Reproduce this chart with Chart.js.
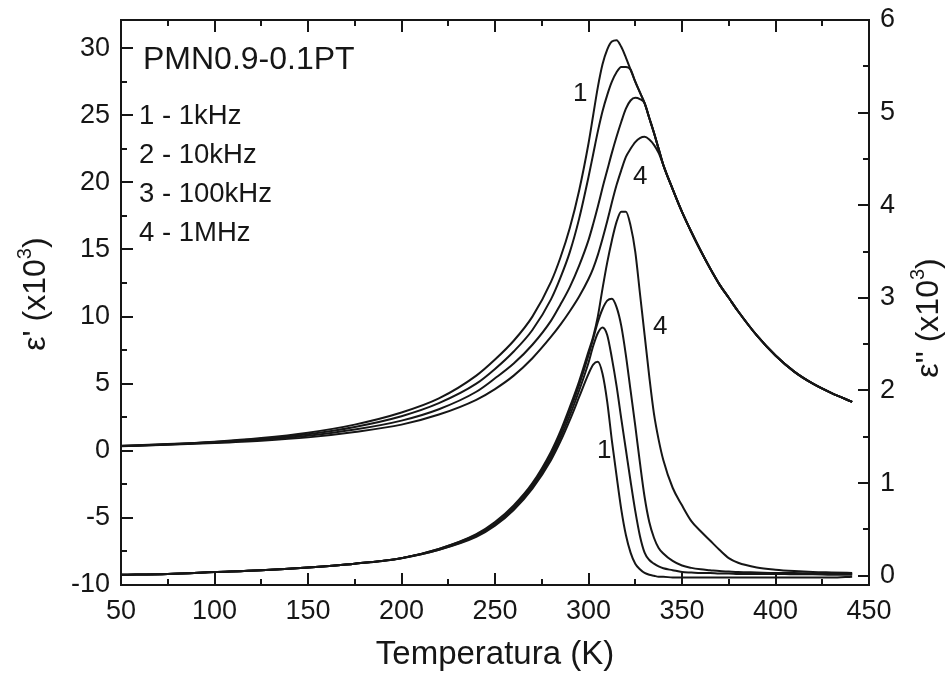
<!DOCTYPE html>
<html>
<head>
<meta charset="utf-8">
<script src="https://cdn.jsdelivr.net/npm/chart.js@4.4.1/dist/chart.umd.min.js"></script>
<style>
  html, body { margin: 0; padding: 0; background: #fff; }
  #wrap { width: 951px; height: 675px; }
</style>
</head>
<body>
<div id="wrap"><canvas id="chart" width="951" height="675"></canvas></div>
<script>
// temperatures (K), shared by all curves
const temps = [50, 75, 100, 125, 150, 175, 200, 220, 240, 250, 260, 270, 280, 285, 290, 295, 300,
  302.5, 305, 307.5, 310, 312.5, 315, 317.5, 320, 322.5, 325, 327.5, 330, 332.5, 335, 337.5, 340,
  345, 350, 355, 360, 365, 370, 375, 380, 390, 400, 410, 420, 430, 441];

// eps' (x10^3), left axis
const epsReal1k = [0.37, 0.50, 0.68, 0.95, 1.35, 1.95, 2.85, 3.9, 5.6, 6.8, 8.2, 10.0, 12.6, 14.4, 16.6, 19.4, 22.9,
  25.0, 27.1, 28.8, 29.9, 30.5, 30.6, 30.1, 29.3, 28.4, 27.5, 26.7, 25.9, 24.8, 23.7, 22.5, 21.3,
  19.5, 17.8, 16.3, 14.9, 13.6, 12.4, 11.4, 10.4, 8.6, 7.1, 5.9, 5.0, 4.3, 3.65];
const epsReal10k = [0.36, 0.48, 0.65, 0.89, 1.24, 1.78, 2.58, 3.55, 5.0, 6.1, 7.4, 9.0, 11.3, 12.9, 14.8, 17.3, 20.4,
  22.1, 23.8, 25.3, 26.5, 27.5, 28.2, 28.6, 28.6, 28.4, 27.5, 26.7, 25.9, 24.8, 23.7, 22.5, 21.3,
  19.5, 17.8, 16.3, 14.9, 13.6, 12.4, 11.4, 10.4, 8.6, 7.1, 5.9, 5.0, 4.3, 3.65];
const epsReal100k = [0.35, 0.46, 0.62, 0.82, 1.12, 1.58, 2.25, 3.1, 4.4, 5.4, 6.5, 7.9, 9.7, 10.9, 12.2, 13.8, 15.7,
  16.9, 18.2, 19.6, 20.9, 22.2, 23.4, 24.5, 25.5, 26.1, 26.3, 26.2, 25.9, 24.8, 23.7, 22.5, 21.3,
  19.5, 17.8, 16.3, 14.9, 13.6, 12.4, 11.4, 10.4, 8.6, 7.1, 5.9, 5.0, 4.3, 3.65];
const epsReal1M = [0.34, 0.45, 0.58, 0.75, 1.0, 1.4, 1.95, 2.7, 3.8, 4.6, 5.6, 6.9, 8.5, 9.4, 10.4, 11.5, 12.8,
  13.6, 14.6, 15.8, 17.1, 18.5, 19.8, 20.9, 21.9, 22.5, 23.0, 23.3, 23.4, 23.2, 22.8, 22.2, 21.3,
  19.5, 17.8, 16.3, 14.9, 13.6, 12.4, 11.4, 10.4, 8.6, 7.1, 5.9, 5.0, 4.3, 3.65];

// eps'' (x10^3), right axis
const epsImag1k = [0.01, 0.02, 0.04, 0.06, 0.09, 0.13, 0.19, 0.28, 0.42, 0.54, 0.71, 0.94, 1.25, 1.45, 1.68, 1.93, 2.18,
  2.28, 2.31, 2.18, 1.88, 1.46, 1.08, 0.72, 0.44, 0.25, 0.13, 0.07, 0.03, 0.01, 0.0, -0.01, -0.01,
  -0.02, -0.02, -0.02, -0.02, -0.02, -0.02, -0.02, -0.02, -0.02, -0.02, -0.02, -0.02, -0.02, -0.01];
const epsImag10k = [0.01, 0.02, 0.04, 0.06, 0.09, 0.13, 0.19, 0.28, 0.43, 0.55, 0.72, 0.96, 1.28, 1.49, 1.73, 2.0, 2.3,
  2.48, 2.62, 2.68, 2.6, 2.35, 2.05, 1.7, 1.36, 1.02, 0.7, 0.43, 0.25, 0.17, 0.13, 0.1, 0.08,
  0.06, 0.04, 0.035, 0.03, 0.03, 0.025, 0.025, 0.02, 0.02, 0.02, 0.015, 0.015, 0.01, 0.01];
const epsImag100k = [0.01, 0.02, 0.04, 0.06, 0.09, 0.13, 0.19, 0.29, 0.44, 0.56, 0.74, 0.98, 1.31, 1.53, 1.78, 2.06, 2.38,
  2.56, 2.74, 2.88, 2.97, 2.99, 2.9, 2.7, 2.38, 2.0, 1.62, 1.22, 0.85, 0.58, 0.41, 0.3, 0.24,
  0.16, 0.11, 0.085, 0.07, 0.06, 0.05, 0.045, 0.04, 0.035, 0.03, 0.03, 0.025, 0.02, 0.02];
const epsImag1M = [0.01, 0.02, 0.04, 0.06, 0.09, 0.13, 0.19, 0.29, 0.45, 0.58, 0.76, 1.0, 1.34, 1.56, 1.82, 2.1, 2.42,
  2.58, 2.8, 3.1, 3.38, 3.62, 3.82, 3.93, 3.93, 3.78, 3.5, 3.05, 2.6, 2.15, 1.75, 1.47, 1.25,
  0.95, 0.76, 0.59, 0.48, 0.38, 0.28, 0.19, 0.14, 0.09, 0.065, 0.05, 0.04, 0.035, 0.03];

const freqLabels = ['1 - 1kHz', '2 - 10kHz', '3 - 100kHz', '4 - 1MHz'];
const sampleName = 'PMN0.9-0.1PT';

const ink = '#161616';
const fontFam = '"Liberation Sans", Arial, Helvetica, sans-serif';
Chart.defaults.font.family = fontFam;
Chart.defaults.color = ink;

function toPoints(ys) {
  return temps.map((t, i) => ({ x: t, y: ys[i] }));
}

function curve(label, ys, axis) {
  return {
    label: label,
    data: toPoints(ys),
    yAxisID: axis,
    borderColor: ink,
    borderWidth: 2,
    pointRadius: 0,
    fill: false,
    cubicInterpolationMode: 'monotone'
  };
}

function supText(ctx, x, y, base, sup, tail) {
  ctx.save();
  ctx.translate(x, y);
  ctx.rotate(-Math.PI / 2);
  const big = '32px ' + fontFam;
  const small = '20px ' + fontFam;
  ctx.font = big;
  const w1 = ctx.measureText(base).width;
  const w3 = ctx.measureText(tail).width;
  ctx.font = small;
  const w2 = ctx.measureText(sup).width;
  let cx = -(w1 + w2 + w3) / 2;
  ctx.textAlign = 'left';
  ctx.textBaseline = 'middle';
  ctx.font = big;
  ctx.fillText(base, cx, 0);
  cx += w1;
  ctx.font = small;
  ctx.fillText(sup, cx, -11);
  cx += w2;
  ctx.font = big;
  ctx.fillText(tail, cx, 0);
  ctx.restore();
}

const frameAndText = {
  id: 'frameAndText',
  afterDraw(chart) {
    const ctx = chart.ctx;
    const a = chart.chartArea;
    const sx = chart.scales.x, sy = chart.scales.y, sy2 = chart.scales.y2;
    ctx.save();
    ctx.strokeStyle = ink;
    ctx.lineWidth = 2;
    ctx.strokeRect(a.left, a.top, a.right - a.left, a.bottom - a.top);
    ctx.beginPath();
    // inward ticks, bottom and top
    for (let v = 50; v <= 450; v += 25) {
      const len = v % 50 === 0 ? 12 : 6;
      const px = Math.round(sx.getPixelForValue(v));
      ctx.moveTo(px, a.bottom); ctx.lineTo(px, a.bottom - len);
      ctx.moveTo(px, a.top); ctx.lineTo(px, a.top + len);
    }
    // left
    for (let v = -10; v <= 30; v += 2.5) {
      const len = v % 5 === 0 ? 12 : 6;
      const py = Math.round(sy.getPixelForValue(v));
      ctx.moveTo(a.left, py); ctx.lineTo(a.left + len, py);
    }
    // right
    for (let v = 0; v <= 6; v += 0.5) {
      const len = Number.isInteger(v) ? 11 : 6;
      const py = Math.round(sy2.getPixelForValue(v));
      ctx.moveTo(a.right, py); ctx.lineTo(a.right - len, py);
    }
    ctx.stroke();

    ctx.fillStyle = ink;
    ctx.textAlign = 'left';
    ctx.textBaseline = 'alphabetic';
    ctx.font = '32px ' + fontFam;
    ctx.fillText(sampleName, a.left + 22, a.top + 49);
    ctx.font = '27.5px ' + fontFam;
    freqLabels.forEach((s, i) => {
      ctx.fillText(s, a.left + 18, a.top + 104 + i * 38.9);
    });

    // curve numbers
    ctx.font = '26px ' + fontFam;
    const tags = [['1', 291.7, 26.1], ['4', 323.8, 19.9], ['4', 334.5, 8.7], ['1', 304.5, -0.5]];
    tags.forEach(([s, t, v]) => {
      ctx.fillText(s, sx.getPixelForValue(t), sy.getPixelForValue(v));
    });

    // axis titles
    supText(ctx, 36, 294, "\u03b5' (x10", '3', ')');
    supText(ctx, 929, 318, "\u03b5'' (x10", '3', ')');
    ctx.restore();
  }
};

// keep the plot box fixed: no extra room for half labels
function fixY(width) {
  return function (s) {
    s.width = width;
    s.paddingTop = 0;
    s.paddingBottom = 0;
  };
}

new Chart(document.getElementById('chart'), {
  type: 'line',
  data: {
    datasets: [
      curve('eps1 1kHz', epsReal1k, 'y'),
      curve('eps1 10kHz', epsReal10k, 'y'),
      curve('eps1 100kHz', epsReal100k, 'y'),
      curve('eps1 1MHz', epsReal1M, 'y'),
      curve('eps2 1kHz', epsImag1k, 'y2'),
      curve('eps2 10kHz', epsImag10k, 'y2'),
      curve('eps2 100kHz', epsImag100k, 'y2'),
      curve('eps2 1MHz', epsImag1M, 'y2')
    ]
  },
  options: {
    responsive: false,
    animation: false,
    devicePixelRatio: 1,
    layout: { padding: { top: 20, left: 0, right: 0, bottom: 0 } },
    plugins: {
      legend: { display: false },
      tooltip: { enabled: false }
    },
    scales: {
      x: {
        type: 'linear',
        min: 50,
        max: 450,
        grid: { display: false, drawTicks: false },
        border: { display: false },
        ticks: { stepSize: 50, padding: 10, maxRotation: 0, font: { size: 27 }, color: ink },
        title: { display: true, text: 'Temperatura (K)', font: { size: 33 }, color: ink, padding: 0 },
        afterFit(s) { s.height = 90; s.paddingLeft = 0; s.paddingRight = 0; }
      },
      y: {
        position: 'left',
        min: -10,
        max: 32.1,
        grid: { display: false, drawTicks: false },
        border: { display: false },
        ticks: { stepSize: 5, padding: 11, includeBounds: false, font: { size: 27 }, color: ink },
        afterFit: fixY(121)
      },
      y2: {
        position: 'right',
        min: -0.1,
        max: 6,
        grid: { display: false, drawTicks: false },
        border: { display: false },
        ticks: { stepSize: 1, padding: 11, includeBounds: false, font: { size: 27 }, color: ink },
        afterFit: fixY(82)
      }
    }
  },
  plugins: [frameAndText]
});
</script>
</body>
</html>
